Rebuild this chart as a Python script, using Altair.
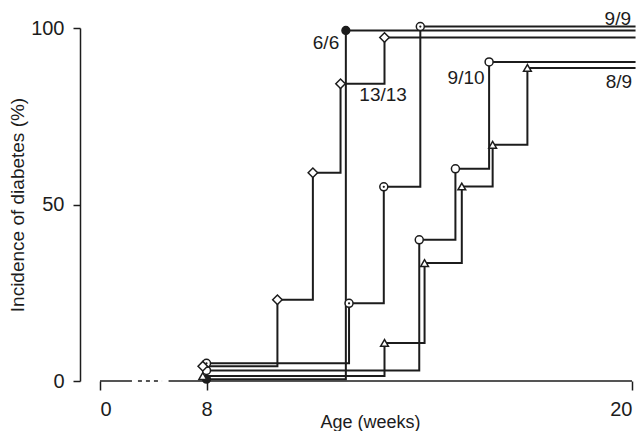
import altair as alt
import pandas as pd

# ---- data (x = age in weeks, y = incidence %) ----
FILLED_X = [8, 11.93, 20.1]
FILLED_Y = [0.5, 99.3, 99.3]
DOTTED_X = [8, 12.02, 13.0, 14.03, 20.1]
DOTTED_Y = [5.0, 22.0, 55.0, 100.4, 100.4]
DIAMOND_X = [8, 10.0, 11.0, 11.78, 13.02, 20.1]
DIAMOND_Y = [4.2, 23.0, 59.0, 84.2, 97.3, 97.3]
OPEN_X = [8, 14.0, 15.02, 15.97, 20.1]
OPEN_Y = [3.0, 40.0, 60.1, 90.4, 90.4]
TRI_X = [8, 13.02, 14.15, 15.2, 16.07, 17.05, 20.1]
TRI_Y = [1.4, 10.8, 33.4, 55.1, 66.9, 88.7, 88.7]
START_MARK_X = {"filled": 8, "dotted": 8, "diamond": 7.72, "open": 8, "triangle": 7.72}

LABEL_TEXT = ["9/9", "6/6", "13/13", "9/10", "8/9"]
LABEL_X = [19.6, 11.37, 12.98, 15.32, 19.63]
LABEL_Y = [102.6, 95.8, 81.0, 85.9, 84.8]

X_TICKS = [0, 8, 20]
Y_TICKS = [0, 50, 100]
AXIS_SOLID_X1 = [0, 5.15]
AXIS_SOLID_X2 = [2.4, 20]
AXIS_DOT_X1 = [2.85]
AXIS_DOT_X2 = [4.66]

FONT = "Liberation Sans, Arial, Helvetica, sans-serif"
INK = "#1c1c1c"

series = {
    "filled": (FILLED_X, FILLED_Y),
    "dotted": (DOTTED_X, DOTTED_Y),
    "diamond": (DIAMOND_X, DIAMOND_Y),
    "open": (OPEN_X, OPEN_Y),
    "triangle": (TRI_X, TRI_Y),
}

line_rows, mark_rows = [], []
for name, (xs, ys) in series.items():
    for i, (x, y) in enumerate(zip(xs, ys)):
        line_rows.append({"series": name, "x": x, "y": y, "order": i})
        if i < len(xs) - 1:
            mx = START_MARK_X[name] if i == 0 else x
            mark_rows.append({"series": name, "x": mx, "y": y})
lines_df = pd.DataFrame(line_rows)
marks_df = pd.DataFrame(mark_rows)
labels_df = pd.DataFrame({"text": LABEL_TEXT, "x": LABEL_X, "y": LABEL_Y})
axis_solid_df = pd.DataFrame({"x": AXIS_SOLID_X1, "x2": AXIS_SOLID_X2,
                              "y": [0] * len(AXIS_SOLID_X1)})
axis_dot_df = pd.DataFrame({"x": AXIS_DOT_X1, "x2": AXIS_DOT_X2,
                            "y": [0] * len(AXIS_DOT_X1)})

# piecewise x scale: broken axis between 0 and 8 weeks
xscale = alt.Scale(domain=[0, 8, 20], range=[20, 126.5, 552])
yscale = alt.Scale(domain=[0, 100])

X = alt.X("x:Q", scale=xscale, title="Age (weeks)",
          axis=alt.Axis(values=X_TICKS, domain=False, grid=False, tickSize=9,
                        tickWidth=1.5, tickColor=INK, labelFontSize=20,
                        labelFont=FONT, labelColor=INK, labelBaseline="middle",
                        labelPadding=19,
                        titleFontSize=18, titleFont=FONT, titleColor=INK,
                        titleFontWeight="normal", titleBaseline="alphabetic",
                        titleY=46, titleX=290))
Y = alt.Y("y:Q", scale=yscale, title="Incidence of diabetes (%)",
          axis=alt.Axis(values=Y_TICKS, grid=False, tickSize=7,
                        tickWidth=1.5, domainWidth=1.5, domainColor=INK,
                        tickColor=INK, labelFontSize=20, labelFont=FONT,
                        labelColor=INK, labelPadding=9, titleFontSize=19,
                        titleFont=FONT, titleColor=INK,
                        titleFontWeight="normal", titlePadding=3))

base_lines = alt.Chart(lines_df).mark_line(
    interpolate="step-after", color=INK, strokeWidth=2
).encode(x=X, y=Y, detail="series:N", order="order:Q")

axis_solid = alt.Chart(axis_solid_df).mark_rule(color=INK, strokeWidth=1.5).encode(
    x=X, x2="x2:Q", y=Y)
axis_dot = alt.Chart(axis_dot_df).mark_rule(
    color=INK, strokeWidth=1.5, strokeDash=[4, 4]).encode(
    x=X, x2="x2:Q", y=Y)


def pts(name, shape, fill, size):
    return alt.Chart(marks_df).transform_filter(
        alt.datum.series == name
    ).mark_point(shape=shape, filled=True, fill=fill, stroke=INK,
                 strokeWidth=1.5, size=size, opacity=1).encode(x=X, y=Y)


dot_center = alt.Chart(marks_df).transform_filter(
    alt.datum.series == "dotted"
).mark_point(shape="circle", filled=True, fill=INK, size=5, opacity=1).encode(
    x=X, y=Y)

labels = alt.Chart(labels_df).mark_text(
    font=FONT, fontSize=19, color=INK, align="center", baseline="middle"
).encode(x=X, y=Y, text="text:N")

chart = alt.layer(
    base_lines, axis_solid, axis_dot,
    pts("filled", "circle", INK, 60),
    pts("open", "circle", "white", 64),
    pts("dotted", "circle", "white", 64),
    dot_center,
    pts("diamond", "diamond", "white", 90),
    pts("triangle", "triangle-up", "white", 60),
    labels,
).properties(
    width=556, height=353,
    background="white",
    autosize=alt.AutoSizeParams(type="none"),
    padding={"left": 72, "top": 20, "right": 0, "bottom": 50},
).configure_view(strokeWidth=0)

chart.save("out.html", embed_options={"renderer": "svg", "actions": False})
